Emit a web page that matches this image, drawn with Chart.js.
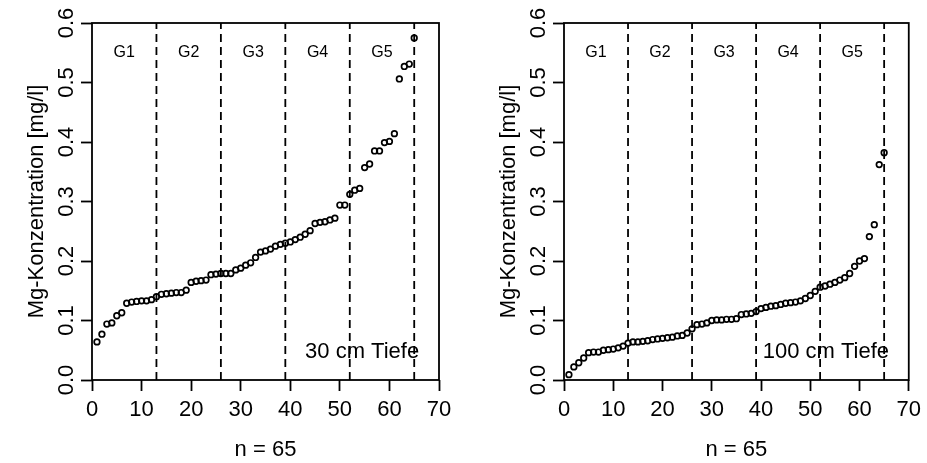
<!DOCTYPE html>
<html>
<head>
<meta charset="utf-8">
<script src="https://cdn.jsdelivr.net/npm/chart.js@4"></script>
<style>
  body { margin: 0; background: #fff; }
  #wrap { position: relative; width: 927px; height: 463px; }
  .box { position: absolute; top: 0; height: 463px; }
</style>
</head>
<body>
<div id="wrap">
  <div class="box" style="left:0;width:463px"><canvas id="chart30"></canvas></div>
  <div class="box" style="left:463px;width:464px"><canvas id="chart100"></canvas></div>
</div>
<script>
// Mg concentration, sorted, 65 samples per depth
const mg30 = [
    0.064, 0.077, 0.094, 0.096, 0.108, 0.113, 0.129, 0.131, 0.132, 0.133,
    0.133, 0.135, 0.140, 0.144, 0.145, 0.146, 0.147, 0.147, 0.151, 0.164,
    0.166, 0.167, 0.168, 0.177, 0.178, 0.179, 0.179, 0.179, 0.185, 0.188,
    0.193, 0.197, 0.206, 0.215, 0.217, 0.220, 0.225, 0.228, 0.230, 0.232,
    0.236, 0.240, 0.245, 0.251, 0.263, 0.265, 0.266, 0.269, 0.272, 0.294,
    0.294, 0.312, 0.319, 0.322, 0.357, 0.363, 0.385, 0.385, 0.399, 0.401,
    0.414, 0.506, 0.527, 0.531, 0.575
];
const mg100 = [
    0.009, 0.022, 0.029, 0.037, 0.046, 0.047, 0.047, 0.050, 0.051, 0.052,
    0.054, 0.057, 0.062, 0.064, 0.064, 0.065, 0.066, 0.068, 0.069, 0.070,
    0.071, 0.072, 0.074, 0.075, 0.079, 0.086, 0.093, 0.094, 0.096, 0.100,
    0.101, 0.101, 0.102, 0.102, 0.103, 0.110, 0.111, 0.112, 0.115, 0.120,
    0.122, 0.124, 0.125, 0.127, 0.129, 0.130, 0.131, 0.133, 0.137, 0.142,
    0.149, 0.156, 0.158, 0.161, 0.164, 0.168, 0.172, 0.179, 0.191, 0.200,
    0.204, 0.241, 0.261, 0.362, 0.382
];

// Group boundaries and labels
const groupBreaks = [13, 26, 39, 52, 65];
const groupLabels = ['G1', 'G2', 'G3', 'G4', 'G5'];

// Axis ticks
const xTicks = { min: 0, max: 70, step: 10 };
const yTicks = { min: 0, max: 0.6, step: 0.1 };

const FONT = '"Liberation Sans", Arial, sans-serif';

// Draws the box, rotated y labels and the text inside the plot
const rStyle = {
    id: 'rStyle',
    afterDraw(chart, args, opts) {
        const { ctx, chartArea: a, scales: { x, y } } = chart;
        ctx.save();
        ctx.strokeStyle = '#000';
        ctx.lineWidth = 1.8;
        ctx.strokeRect(a.left, a.top, a.right - a.left, a.bottom - a.top);

        ctx.fillStyle = '#000';
        ctx.font = '22px ' + FONT;
        ctx.textAlign = 'center';
        ctx.textBaseline = 'middle';
        y.ticks.forEach(t => {
            ctx.save();
            ctx.translate(a.left - opts.labelOffset, y.getPixelForValue(t.value));
            ctx.rotate(-Math.PI / 2);
            ctx.fillText(t.value.toFixed(1), 0, 0);
            ctx.restore();
        });

        // group names, centred in each group
        ctx.font = '16px ' + FONT;
        groupLabels.forEach((g, i) => {
            const from = i === 0 ? 0 : groupBreaks[i - 1];
            const mid = (from + groupBreaks[i]) / 2;
            ctx.fillText(g, x.getPixelForValue(mid), y.getPixelForValue(0.55));
        });

        // depth label
        ctx.font = '22px ' + FONT;
        ctx.textAlign = 'right';
        ctx.fillText(opts.depth, x.getPixelForValue(66), y.getPixelForValue(0.048));
        ctx.restore();
    }
};

function makeChart(id, values, depth, axisWidth, titlePad, rightPad) {
    const datasets = [{
        type: 'scatter',
        data: values.map((v, i) => ({ x: i + 1, y: v })),
        showLine: false,
        pointStyle: 'circle',
        pointRadius: 2.8,
        borderWidth: 1.7,
        borderColor: '#000',
        backgroundColor: 'rgba(0,0,0,0)'
    }];
    groupBreaks.forEach(b => {
        datasets.push({
            type: 'line',
            data: [{ x: b, y: yTicks.min }, { x: b, y: yTicks.max }],
            showLine: true,
            borderColor: '#000',
            borderWidth: 1.8,
            borderDash: [8, 5],
            pointRadius: 0,
            fill: false
        });
    });

    return new Chart(document.getElementById(id), {
        type: 'scatter',
        data: { datasets },
        options: {
            responsive: true,
            maintainAspectRatio: false,
            animation: false,
            layout: { padding: { top: 23, right: rightPad, left: 0, bottom: 0 } },
            plugins: {
                legend: { display: false },
                tooltip: { enabled: false },
                rStyle: { labelOffset: 25, depth }
            },
            scales: {
                x: {
                    type: 'linear',
                    min: xTicks.min, max: xTicks.max,
                    ticks: {
                        stepSize: xTicks.step, autoSkip: false, maxRotation: 0,
                        padding: 6, color: '#000', font: { family: FONT, size: 22 }
                    },
                    grid: { drawOnChartArea: false, color: '#000', tickLength: 11, tickWidth: 1.8 },
                    border: { display: false },
                    title: {
                        display: true, text: 'n = 65', color: '#000',
                        padding: { top: 0, bottom: 0 }, font: { family: FONT, size: 22 }
                    },
                    afterFit: s => { s.height = 83; }
                },
                y: {
                    type: 'linear',
                    min: yTicks.min, max: yTicks.max,
                    ticks: { stepSize: yTicks.step, display: false },
                    grid: { drawOnChartArea: false, color: '#000', tickLength: 11, tickWidth: 1.8 },
                    border: { display: false },
                    title: {
                        display: true, text: 'Mg-Konzentration [mg/l]', color: '#000',
                        padding: { top: titlePad, bottom: 0 }, font: { family: FONT, size: 22 }
                    },
                    afterFit: s => { s.width = axisWidth; }
                }
            }
        },
        plugins: [rStyle]
    });
}

makeChart('chart30', mg30, '30 cm Tiefe', 92, 24, 24);
makeChart('chart100', mg100, '100 cm Tiefe', 101, 33, 15);
</script>
</body>
</html>
